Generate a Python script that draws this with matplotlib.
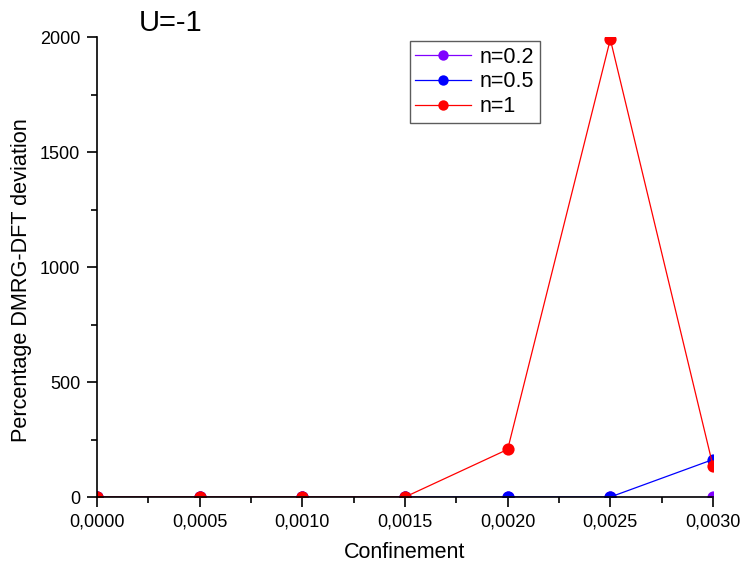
import matplotlib
matplotlib.use("Agg")
import matplotlib.pyplot as plt
from matplotlib.ticker import FuncFormatter, MultipleLocator

plt.rcParams['font.family'] = ['Liberation Sans', 'DejaVu Sans']

confinement = [0.0, 0.0005, 0.0010, 0.0015, 0.0020, 0.0025, 0.0030]
dev_n02 = [0, 0, 0, 0, 0, 0, 0]
dev_n05 = [0, 0, 0, 0, 0, 0, 163]
dev_n1 = [0, 0, 0, 0, 207, 1990, 135]

series = [
    ("n=0.2", dev_n02, "#8000FF"),
    ("n=0.5", dev_n05, "#0000FF"),
    ("n=1", dev_n1, "#FF0000"),
]

fig = plt.figure(figsize=(7.43, 5.66), dpi=100)
ax = fig.add_axes([0.1306, 0.1219, 0.829, 0.8127])

for label, vals, color in series:
    ax.plot(confinement, vals, color=color, lw=0.9, marker='o', markersize=8.8,
            markeredgewidth=0, label=label)

ax.set_xlim(0, 0.003)
ax.set_ylim(0, 2000)
ax.xaxis.set_major_locator(MultipleLocator(0.0005))
ax.xaxis.set_minor_locator(MultipleLocator(0.00025))
ax.yaxis.set_major_locator(MultipleLocator(500))
ax.yaxis.set_minor_locator(MultipleLocator(250))
ax.xaxis.set_major_formatter(FuncFormatter(lambda v, p: f"{v:.4f}".replace('.', ',')))

for s in ('top', 'right'):
    ax.spines[s].set_visible(False)
for s in ('left', 'bottom'):
    ax.spines[s].set_linewidth(1.2)
ax.tick_params(which='major', direction='out', length=7, width=1.2, labelsize=13, pad=5)
ax.tick_params(which='minor', direction='out', length=4, width=1.2)

ax.set_xlabel("Confinement", fontsize=15.5, labelpad=8)
ax.set_ylabel("Percentage DMRG-DFT deviation", fontsize=15.6)
ax.yaxis.set_label_coords(-0.1055, 0.472)

ax.text(0.067, 1.0, "U=-1", transform=ax.transAxes, fontsize=21, ha='left', va='bottom')

leg = ax.legend(loc='upper left', bbox_to_anchor=(0.508, 0.991), borderaxespad=0,
                fontsize=15.5, frameon=True, fancybox=False, edgecolor='#333333',
                handlelength=2.6, borderpad=0.25, labelspacing=0.18, handletextpad=0.4,
                markerscale=0.85)
leg.get_frame().set_linewidth(1.0)

fig.savefig("out.png", dpi=100)
